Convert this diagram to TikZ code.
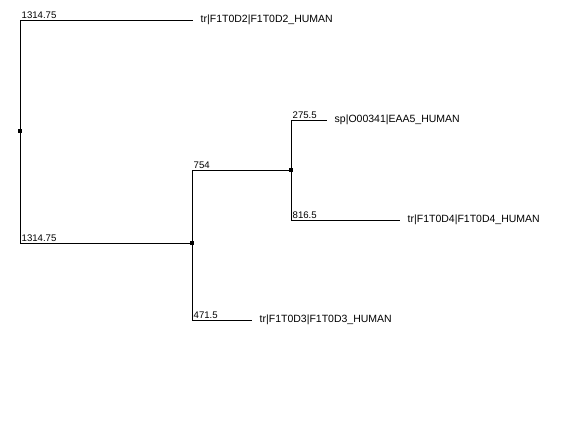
\documentclass[tikz,border=0pt]{standalone}
\usepackage{fontspec}
\setmainfont{Liberation Sans}
\begin{document}
\begin{tikzpicture}[x=1pt,y=-1pt,
  edge/.style={draw=black,line width=0.9pt},
  inner/.style={rectangle,fill=black,minimum size=3.6pt,inner sep=0pt},
  leaf/.style={anchor=west,inner xsep=7.5pt,inner ysep=0pt,font=\fontsize{10.5}{12}\selectfont},
  blen/.style={anchor=south west,inner xsep=1.5pt,inner ysep=1.2pt,font=\fontsize{9.6}{11}\selectfont}]
\useasboundingbox[fill=white] (0,0) rectangle (580,421);
% internal nodes
\node[inner] (r) at (20,131) {};
\node[inner] (n1) at (192,243) {};
\node[inner] (n2) at (291,170) {};
% leaves
\node[leaf] (l1) at (193,20) {tr|F1T0D2|F1T0D2\_HUMAN};
\node[leaf] (l2) at (327,120) {sp|O00341|EAA5\_HUMAN};
\node[leaf] (l3) at (400,220) {tr|F1T0D4|F1T0D4\_HUMAN};
\node[leaf] (l4) at (252,320) {tr|F1T0D3|F1T0D3\_HUMAN};
% connectors
\draw[edge] (r.center) |- (l1.west);
\draw[edge] (r.center) |- (n1.center);
\draw[edge] (n1.center) |- (n2.center);
\draw[edge] (n1.center) |- (l4.west);
\draw[edge] (n2.center) |- (l2.west);
\draw[edge] (n2.center) |- (l3.west);
% branch lengths
\node[blen] (b1) at (20,20) {1314.75};
\node[blen] (b2) at (20,243) {1314.75};
\node[blen] (b3) at (192,170) {754};
\node[blen] (b4) at (192,320) {471.5};
\node[blen] (b5) at (291,120) {275.5};
\node[blen] (b6) at (291,220) {816.5};
\end{tikzpicture}
\end{document}
